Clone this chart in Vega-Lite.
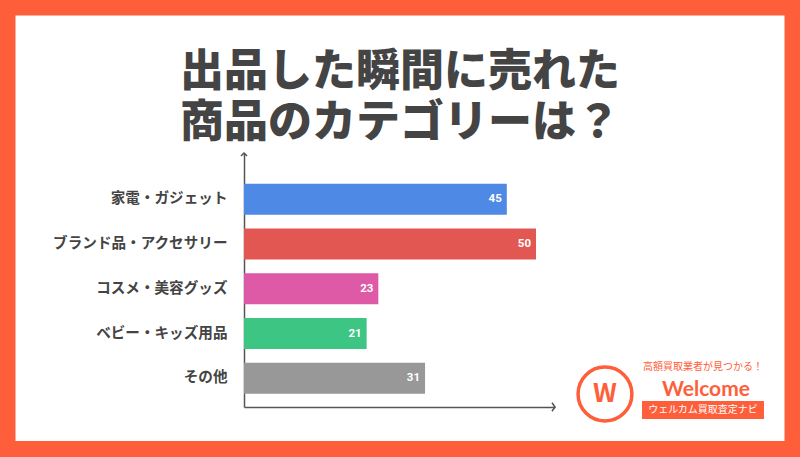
{
  "$schema": "https://vega.github.io/schema/vega-lite/v6.json",
  "width": 311,
  "height": 254,
  "autosize": {"type": "none"},
  "padding": {"left": 244, "top": 153, "right": 245, "bottom": 50},
  "background": "white",
  "config": {
    "view": {"stroke": null},
    "axisX": {"labels": false, "ticks": false, "grid": false, "domainColor": "#555555", "domainWidth": 1.5},
    "axisY": {"grid": false}
  },
  "resolve": {"scale": {"y": "independent"}},
  "layer": [
    {
      "data": {
        "values": [
          {"category": "家電・ガジェット", "value": 45},
          {"category": "ブランド品・アクセサリー", "value": 50},
          {"category": "コスメ・美容グッズ", "value": 23},
          {"category": "ベビー・キッズ用品", "value": 21},
          {"category": "その他", "value": 31}
        ]
      },
      "encoding": {
        "y": {
          "field": "category", "type": "nominal", "sort": null, "title": null,
          "scale": {"paddingInner": 0.307, "paddingOuter": 0.49, "align": 0.7},
          "axis": {
            "labelFont": "Noto Sans CJK JP", "labelFontSize": 14.6, "labelFontWeight": "bold",
            "labelColor": "#444444", "labelPadding": 17, "ticks": false, "tickSize": 0,
            "domainColor": "#555555", "domainWidth": 1.5, "grid": false
          }
        },
        "x": {
          "field": "value", "type": "quantitative", "title": null,
          "scale": {"domain": [0, 53.25], "nice": false, "zero": false}
        }
      },
      "layer": [
        {
          "mark": {"type": "bar"},
          "encoding": {
            "color": {
              "field": "category", "type": "nominal", "legend": null,
              "scale": {
                "domain": ["家電・ガジェット", "ブランド品・アクセサリー", "コスメ・美容グッズ", "ベビー・キッズ用品", "その他"],
                "range": ["#4E89E5", "#E35753", "#DE59A6", "#3DC584", "#989898"]
              }
            }
          }
        },
        {
          "mark": {"type": "text", "align": "right", "dx": -5, "baseline": "middle", "color": "white", "fontSize": 11.5, "fontWeight": "bold", "font": "Roboto"},
          "encoding": {"text": {"field": "value", "type": "quantitative"}}
        }
      ]
    },
    {
      "data": {"values": [{}]},
      "layer": [
        {
          "mark": {"type": "rect", "filled": false, "stroke": "#FF5E3A", "strokeWidth": 16},
          "encoding": {
            "x": {"datum": -40.494, "type": "quantitative", "title": null, "scale": {"domain": [0, 53.25], "nice": false, "zero": false}},
            "x2": {"datum": 93.915},
            "y": {"datum": 1.57283, "type": "quantitative", "axis": null, "scale": {"domain": [0, 1], "nice": false, "zero": false}},
            "y2": {"datum": -0.16535}
          }
        },
        {
          "mark": {"type": "text", "text": ["出品した瞬間に売れた", "商品のカテゴリーは？"], "font": "Noto Sans CJK JP", "fontWeight": 900, "fontSize": 44, "lineHeight": 51, "color": "#444444", "align": "center", "baseline": "middle"},
          "encoding": {
            "x": {"datum": 26.71, "type": "quantitative", "title": null, "scale": {"domain": [0, 53.25], "nice": false, "zero": false}},
            "y": {"datum": 1.313, "type": "quantitative", "axis": null, "scale": {"domain": [0, 1], "nice": false, "zero": false}}
          }
        },
        {
          "mark": {"type": "point", "shape": "M-1,1L0,0L1,1", "filled": false, "stroke": "#555555", "strokeWidth": 1.5, "size": 36, "opacity": 1},
          "encoding": {
            "x": {"datum": 0, "type": "quantitative", "title": null, "scale": {"domain": [0, 53.25], "nice": false, "zero": false}},
            "y": {"datum": 1, "type": "quantitative", "axis": null, "scale": {"domain": [0, 1], "nice": false, "zero": false}}
          }
        },
        {
          "mark": {"type": "point", "shape": "M-1,-1.4L0,0L-1,1.4", "filled": false, "stroke": "#555555", "strokeWidth": 1.5, "size": 36, "opacity": 1},
          "encoding": {
            "x": {"datum": 53.25, "type": "quantitative", "title": null, "scale": {"domain": [0, 53.25], "nice": false, "zero": false}},
            "y": {"datum": 0, "type": "quantitative", "axis": null, "scale": {"domain": [0, 1], "nice": false, "zero": false}}
          }
        },
        {
          "mark": {"type": "point", "shape": "circle", "filled": false, "stroke": "#FF5E3A", "strokeWidth": 3.5, "size": 2900, "opacity": 1},
          "encoding": {
            "x": {"datum": 61.81, "type": "quantitative", "title": null, "scale": {"domain": [0, 53.25], "nice": false, "zero": false}},
            "y": {"datum": 0.0512, "type": "quantitative", "axis": null, "scale": {"domain": [0, 1], "nice": false, "zero": false}}
          }
        },
        {
          "mark": {"type": "text", "text": "W", "font": "Noto Sans CJK JP", "fontWeight": "bold", "fontSize": 26, "color": "#FF5E3A", "align": "center", "baseline": "middle"},
          "encoding": {
            "x": {"datum": 61.81, "type": "quantitative", "title": null, "scale": {"domain": [0, 53.25], "nice": false, "zero": false}},
            "y": {"datum": 0.0512, "type": "quantitative", "axis": null, "scale": {"domain": [0, 1], "nice": false, "zero": false}}
          }
        },
        {
          "mark": {"type": "text", "text": "高額買取業者が見つかる！", "font": "Noto Sans CJK JP", "fontSize": 10, "color": "#FF5E3A", "align": "center", "baseline": "middle"},
          "encoding": {
            "x": {"datum": 78.59, "type": "quantitative", "title": null, "scale": {"domain": [0, 53.25], "nice": false, "zero": false}},
            "y": {"datum": 0.1575, "type": "quantitative", "axis": null, "scale": {"domain": [0, 1], "nice": false, "zero": false}}
          }
        },
        {
          "mark": {"type": "text", "text": "Welcome", "font": "Lato", "fontWeight": "bold", "fontSize": 21, "color": "#FF5E3A", "align": "center", "baseline": "middle"},
          "encoding": {
            "x": {"datum": 79.1, "type": "quantitative", "title": null, "scale": {"domain": [0, 53.25], "nice": false, "zero": false}},
            "y": {"datum": 0.0669, "type": "quantitative", "axis": null, "scale": {"domain": [0, 1], "nice": false, "zero": false}}
          }
        },
        {
          "mark": {"type": "rect", "color": "#FF5E3A"},
          "encoding": {
            "x": {"datum": 68.15, "type": "quantitative", "title": null, "scale": {"domain": [0, 53.25], "nice": false, "zero": false}},
            "x2": {"datum": 89.03},
            "y": {"datum": 0.0236, "type": "quantitative", "axis": null, "scale": {"domain": [0, 1], "nice": false, "zero": false}},
            "y2": {"datum": -0.0472}
          }
        },
        {
          "mark": {"type": "text", "text": "ウェルカム買取査定ナビ", "font": "Noto Sans CJK JP", "fontSize": 10, "color": "white", "align": "center", "baseline": "middle"},
          "encoding": {
            "x": {"datum": 78.59, "type": "quantitative", "title": null, "scale": {"domain": [0, 53.25], "nice": false, "zero": false}},
            "y": {"datum": -0.0118, "type": "quantitative", "axis": null, "scale": {"domain": [0, 1], "nice": false, "zero": false}}
          }
        }
      ]
    }
  ]
}
